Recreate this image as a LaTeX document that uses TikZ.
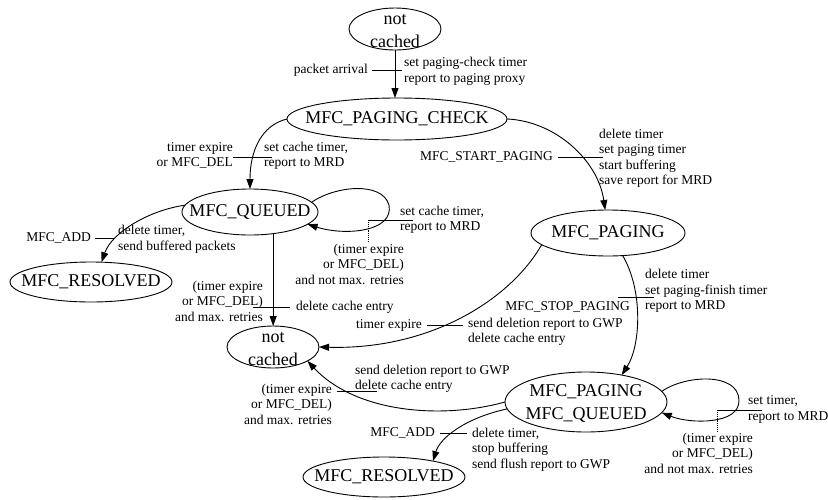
\documentclass[tikz,border=0pt]{standalone}
\usepackage{fontspec}
\setmainfont{Liberation Serif}
\usetikzlibrary{arrows.meta,shapes.geometric}
\begin{document}
\begin{tikzpicture}[x=1pt,y=-1pt,
  state/.style={draw, ellipse, line width=0.9pt, inner sep=0pt, outer sep=0pt},
  statetext/.style={font=\fontsize{18}{22.5}\selectfont, align=center, inner sep=0pt},
  lbl/.style={font=\fontsize{13.5}{15.5}\selectfont, inner sep=0pt},
  lblr/.style={lbl, align=right, anchor=east},
  lbll/.style={lbl, align=left, anchor=west},
  edge/.style={line width=0.9pt, -{Triangle[length=10pt,width=7pt]}},
  tick/.style={line width=0.9pt},
  guide/.style={line width=0.9pt, densely dotted}]
\useasboundingbox (0,0) rectangle (828,499);

% states
\node[state, minimum width=92pt,  minimum height=42pt] (nct) at (395,29) {};
\node[statetext] (nctt) at ([yshift=-2pt]nct.center) {not\\cached};
\node[state, minimum width=220pt, minimum height=42pt] (pc) at (397,119) {};
\node[statetext] (pct) at (pc.center) {MFC\_PAGING\_CHECK};
\node[state, minimum width=136pt, minimum height=46pt] (qd) at (250,212) {};
\node[statetext] (qdt) at (qd.center) {MFC\_QUEUED};
\node[state, minimum width=162pt, minimum height=40pt] (rs1) at (91,282) {};
\node[statetext] (rs1t) at (rs1.center) {MFC\_RESOLVED};
\node[state, minimum width=154pt, minimum height=46pt] (pg) at (608,233) {};
\node[statetext] (pgt) at (pg.center) {MFC\_PAGING};
\node[state, minimum width=92pt,  minimum height=42pt] (ncm) at (273,347) {};
\node[statetext] (ncmt) at ([yshift=-2pt]ncm.center) {not\\cached};
\node[state, minimum width=162pt, minimum height=60pt] (pq) at (586,402) {};
\node[statetext] (pqt) at ([yshift=-1.5pt]pq.center) {MFC\_PAGING\\MFC\_QUEUED};
\node[state, minimum width=162pt, minimum height=40pt] (rs2) at (384,477) {};
\node[statetext] (rs2t) at (rs2.center) {MFC\_RESOLVED};

% not cached -> paging check
\draw[edge] (nct.south) -- (pc.north -| nct.south);
\draw[tick] (372,70) -- (402,70);
\node[lblr] at (368,70) {packet arrival};
\node[lbll] at (404,71.5) {set paging-check timer\\report to paging proxy};

% paging check -> queued
\draw[edge] (pc.west) .. controls (262,125) and (250,150) .. (qd.north);
\draw[tick] (233,157) -- (272,157);
\node[lblr] at (233,155.5) {timer expire\\or MFC\_DEL};
\node[lbll] at (264,155.5) {set cache timer,\\report to MRD};

% paging check -> paging
\draw[edge] (pc.east) .. controls (555,121) and (598,160) .. (pg.97);
\draw[tick] (558,157) -- (603,157);
\node[lblr] at (553,157) {MFC\_START\_PAGING};
\node[lbll] at (599,158) {delete timer\\set paging timer\\start buffering\\save report for MRD};

% queued -> resolved
\draw[edge] (qd.174) .. controls (150,210) and (112,232) .. (rs1.62);
\draw[tick] (95,238) -- (115,238);
\node[lblr] at (91,238) {MFC\_ADD};
\node[lbll] at (118,239) {delete timer,\\send buffered packets};

% queued -> queued
\draw[edge] (qd.9) .. controls (335,186) and (382,181) .. (389,205)
  .. controls (394,232) and (345,236) .. (qd.-12);
\draw[tick] (368,220) -- (413,220);
\draw[guide] (368,220) -- (368,242);
\node[lbll] at (400,219.5) {set cache timer,\\report to MRD};
\node[lblr] at (404,264) {(timer expire\\or MFC\_DEL)\\and not max. retries};

% queued -> not cached
\draw[edge] (qd.-43) -- (qd.-43 |- ncm.north);
\draw[tick] (253,307) -- (290,307);
\node[lblr] at (263,301) {(timer expire\\or MFC\_DEL)\\and max. retries};
\node[lbll] at (296,307) {delete cache entry};

% paging -> not cached
\draw[edge] (pg.190) .. controls (510,300) and (430,350) .. (ncm.east);
\draw[tick] (427,325) -- (463,325);
\node[lblr] at (422,325) {timer expire};
\node[lbll] at (468,332) {send deletion report to GWP\\delete cache entry};

% paging -> paging/queued
\draw[edge] (pg.-57) .. controls (643,290) and (641,345) .. (pq.37);
\draw[tick] (618,297) -- (654,297);
\node[lblr] at (630,307) {MFC\_STOP\_PAGING};
\node[lbll] at (645,291) {delete timer\\set paging-finish timer\\report to MRD};

% paging/queued -> not cached
\draw[edge] (pq.180) .. controls (440,420) and (355,412) .. (ncm.-22);
\draw[tick] (337,391) -- (377,391);
\node[lblr] at (332,404) {(timer expire\\or MFC\_DEL)\\and max. retries};
\node[lbll] at (355,379) {send deletion report to GWP\\delete cache entry};

% paging/queued -> resolved
\draw[edge] (pq.185) .. controls (465,418) and (440,438) .. (rs2.18);
\draw[tick] (440,433) -- (467,433);
\node[lblr] at (435,433) {MFC\_ADD};
\node[lbll] at (472,449.5) {delete timer,\\stop buffering\\send flush report to GWP};

% paging/queued -> paging/queued
\draw[edge] (pq.8) .. controls (685,375) and (738,372) .. (739,400)
  .. controls (740,425) and (690,424) .. (pq.-8);
\draw[tick] (717,410) -- (762,410);
\draw[guide] (717,410) -- (717,432);
\node[lbll] at (748,409.5) {set timer,\\report to MRD};
\node[lblr] at (753,453) {(timer expire\\or MFC\_DEL)\\and not max. retries};
\end{tikzpicture}
\end{document}
